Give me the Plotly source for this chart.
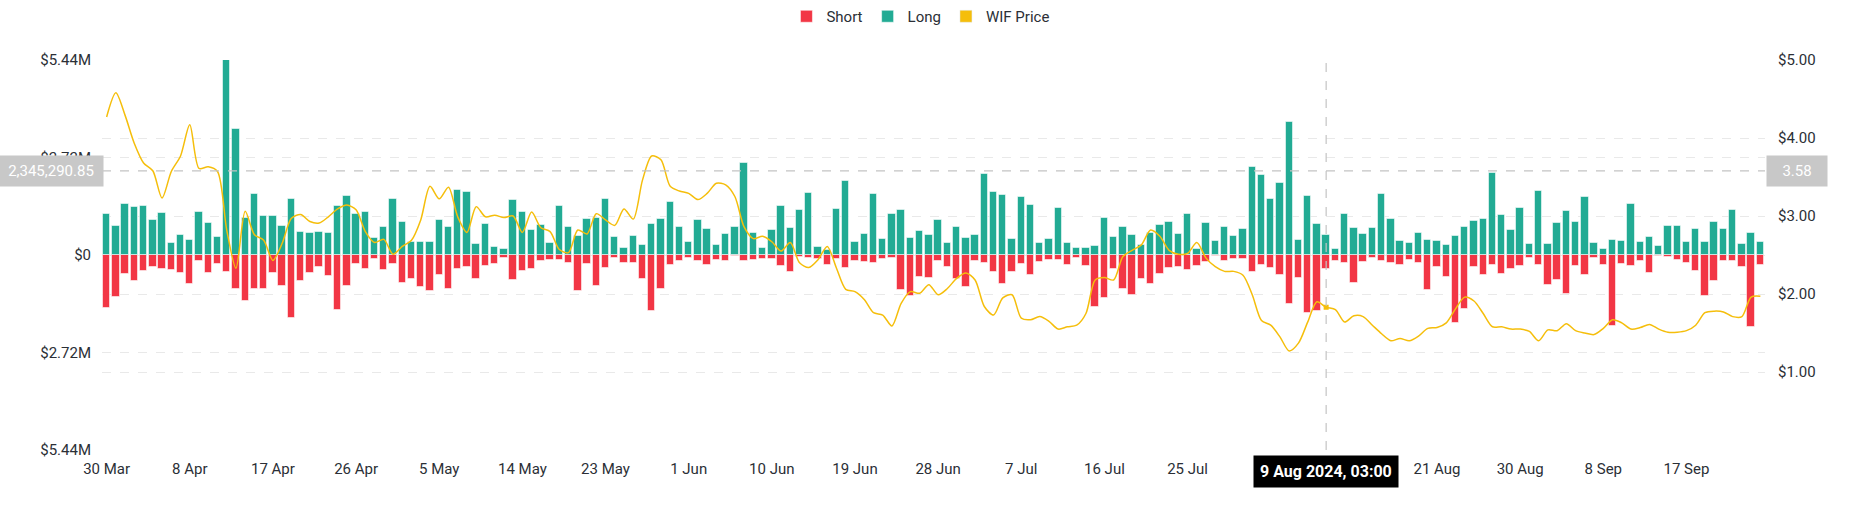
import pandas as pd
import plotly.graph_objects as go

dates = pd.date_range("2024-03-30 03:00", periods=180, freq="D")

long_m = [1.15,0.80,1.41,1.34,1.36,0.97,1.17,0.34,0.56,0.41,
          1.19,0.90,0.49,5.44,3.51,1.04,1.71,1.09,1.08,0.81,
          1.55,0.65,0.61,0.64,0.62,1.37,1.66,1.15,1.21,0.47,
          0.77,1.57,0.92,0.36,0.36,0.36,0.98,0.78,1.81,1.75,
          0.30,0.87,0.21,0.16,1.53,1.20,0.70,0.84,0.33,1.36,
          0.79,0.54,1.00,1.02,1.56,0.51,0.20,0.53,0.27,0.86,
          1.01,1.47,0.77,0.37,0.97,0.73,0.28,0.58,0.78,2.57,
          0.60,0.19,0.69,1.37,0.74,1.26,1.74,0.21,0.14,1.27,
          2.06,0.35,0.59,1.71,0.45,1.14,1.25,0.47,0.67,0.55,
          0.97,0.33,0.79,0.47,0.56,2.25,1.75,1.67,0.45,1.61,
          1.40,0.33,0.46,1.30,0.34,0.19,0.19,0.24,1.02,0.51,
          0.79,0.56,0.28,0.60,0.83,0.92,0.59,1.15,0.17,0.90,
          0.38,0.78,0.53,0.72,2.45,2.24,1.56,2.01,3.70,0.41,
          1.65,0.86,0.55,0.17,1.13,0.75,0.58,0.74,1.70,1.00,
          0.38,0.33,0.61,0.41,0.39,0.28,0.53,0.78,0.95,1.00,
          2.29,1.12,0.70,1.30,0.30,1.78,0.31,0.90,1.24,0.93,
          1.63,0.33,0.17,0.41,0.38,1.43,0.36,0.49,0.24,0.81,
          0.81,0.37,0.72,0.37,0.92,0.73,1.25,0.31,0.62,0.37]

short_m = [1.49,1.16,0.53,0.73,0.46,0.33,0.38,0.43,0.50,0.81,
           0.18,0.49,0.24,0.47,0.94,1.27,0.94,0.94,0.51,0.87,
           1.75,0.72,0.50,0.34,0.59,1.53,0.86,0.25,0.38,0.12,
           0.41,0.25,0.79,0.67,0.90,1.01,0.55,0.94,0.40,0.33,
           0.67,0.32,0.25,0.07,0.70,0.46,0.38,0.18,0.14,0.14,
           0.23,1.01,0.25,0.87,0.36,0.07,0.21,0.21,0.66,1.56,
           0.94,0.29,0.17,0.07,0.18,0.29,0.13,0.18,0.03,0.17,
           0.13,0.11,0.11,0.32,0.48,0.05,0.07,0.11,0.27,0.11,
           0.37,0.16,0.20,0.21,0.12,0.07,0.98,1.14,0.60,0.65,
           0.16,0.33,0.67,0.90,0.18,0.21,0.48,0.82,0.48,0.24,
           0.55,0.20,0.14,0.14,0.29,0.09,0.31,1.45,1.19,0.38,
           0.94,1.12,0.68,0.82,0.53,0.37,0.34,0.42,0.30,0.20,
           0.04,0.18,0.10,0.11,0.47,0.28,0.35,0.57,1.36,0.63,
           1.63,1.55,0.39,0.17,0.21,0.78,0.20,0.07,0.18,0.21,
           0.29,0.15,0.23,0.97,0.34,0.62,1.91,1.51,0.33,0.57,
           0.28,0.52,0.39,0.31,0.08,0.28,0.85,0.69,1.10,0.30,
           0.55,0.07,0.29,1.99,0.25,0.30,0.18,0.49,0.03,0.05,
           0.13,0.21,0.44,1.14,0.73,0.18,0.18,0.34,2.01,0.29]

price = [4.27,4.58,4.29,3.93,3.68,3.58,3.23,3.57,3.77,4.17,
         3.61,3.63,3.57,2.82,2.33,3.06,2.76,2.69,2.43,2.65,
         2.97,3.02,2.93,2.91,2.99,3.09,3.14,3.08,2.80,2.66,
         2.70,2.51,2.61,2.69,2.95,3.38,3.22,3.37,2.99,2.79,
         3.12,2.99,3.01,2.98,3.00,2.79,3.05,2.85,2.80,2.57,
         2.53,2.82,2.77,3.03,2.95,2.88,3.09,2.96,3.46,3.77,
         3.72,3.38,3.32,3.29,3.21,3.29,3.42,3.40,3.25,2.86,
         2.71,2.74,2.67,2.55,2.66,2.40,2.34,2.44,2.61,2.33,
         2.06,2.03,1.93,1.76,1.73,1.59,1.88,2.03,2.01,2.12,
         1.99,2.07,2.20,2.27,2.18,1.84,1.73,1.95,1.99,1.69,
         1.67,1.71,1.65,1.55,1.58,1.60,1.75,2.18,2.21,2.18,
         2.48,2.56,2.63,2.82,2.74,2.56,2.51,2.52,2.66,2.46,
         2.35,2.29,2.29,2.24,1.99,1.66,1.60,1.45,1.27,1.37,
         1.64,1.90,1.83,1.80,1.64,1.72,1.71,1.60,1.49,1.40,
         1.43,1.40,1.46,1.56,1.57,1.63,1.81,1.96,1.91,1.75,
         1.58,1.58,1.55,1.55,1.52,1.40,1.54,1.53,1.62,1.53,
         1.50,1.48,1.56,1.67,1.63,1.55,1.57,1.61,1.55,1.51,
         1.51,1.53,1.60,1.76,1.78,1.77,1.71,1.71,1.96,1.97]

x_tick_idx = [0, 9, 18, 27, 36, 45, 54, 63, 72, 81, 90, 99, 108, 117, 144, 153, 162, 171]
x_tick_text = ["30 Mar", "8 Apr", "17 Apr", "26 Apr", "5 May", "14 May", "23 May", "1 Jun",
               "10 Jun", "19 Jun", "28 Jun", "7 Jul", "16 Jul", "25 Jul", "21 Aug", "30 Aug",
               "8 Sep", "17 Sep"]
y_tick_vals = [-5.44e6, -2.72e6, 0, 2.72e6, 5.44e6]
y_tick_text = ["$5.44M", "$2.72M", "$0", "$2.72M", "$5.44M"]
y2_tick_vals = [1, 2, 3, 4, 5]
y2_tick_text = ["$1.00", "$2.00", "$3.00", "$4.00", "$5.00"]

hover_idx = 132
cross_left = 2345290.85
cross_right = "3.58"
hover_label = "9 Aug 2024, 03:00"

RED = "#F23645"
GREEN = "#22AB94"
YELLOW = "#F5BE0B"
TXT = "#2b2f36"
GRID = "#e9e9e9"
FONT = "Roboto"

bar_w = 0.8 * 86400000

fig = go.Figure()
fig.add_trace(go.Bar(x=dates, y=[-v * 1e6 for v in short_m], name="Short",
                     marker=dict(color=RED, line=dict(color="rgba(255,255,255,0.55)", width=1)),
                     width=bar_w))
fig.add_trace(go.Bar(x=dates, y=[v * 1e6 for v in long_m], name="Long",
                     marker=dict(color=GREEN, line=dict(color="rgba(255,255,255,0.55)", width=1)),
                     width=bar_w))
fig.add_trace(go.Bar(x=[None], y=[None], name="WIF Price", marker=dict(color=YELLOW)))
fig.add_trace(go.Scatter(x=dates, y=price, yaxis="y2", mode="lines", showlegend=False,
                         line=dict(color=YELLOW, width=1.5, shape="spline", smoothing=0.8)))
fig.add_trace(go.Scatter(x=[dates[hover_idx]], y=[price[hover_idx]], yaxis="y2", mode="markers",
                         showlegend=False, marker=dict(color=YELLOW, size=5, symbol="square")))

half = pd.Timedelta(hours=12)
fig.update_layout(
    width=1852, height=525,
    margin=dict(l=102, r=87, t=60, b=75),
    plot_bgcolor="white", paper_bgcolor="white",
    barmode="relative", bargap=0,
    font=dict(family=FONT, size=15, color=TXT),
    legend=dict(orientation="h", x=0.497, xref="container", xanchor="center", y=1, yref="container",
                yanchor="top", font=dict(size=15, color=TXT), itemwidth=30, traceorder="normal"),
    xaxis=dict(type="date", range=[dates[0] - half, dates[-1] + half],
               tickvals=[dates[i] for i in x_tick_idx], ticktext=x_tick_text,
               showgrid=False, zeroline=False, showline=False, ticks="", ticklabelstandoff=8),
    yaxis=dict(range=[-5.44e6, 5.44e6], tickvals=y_tick_vals, ticktext=y_tick_text,
               showgrid=True, gridcolor=GRID, griddash="dash", zeroline=False, ticklabelstandoff=10),
    yaxis2=dict(range=[0, 5], overlaying="y", side="right", tickvals=y2_tick_vals, ticktext=y2_tick_text,
                showgrid=True, gridcolor=GRID, griddash="dash", zeroline=False, ticklabelstandoff=12),
)

# crosshair lines
fig.add_shape(type="line", xref="paper", x0=0, x1=1, yref="y", y0=cross_left, y1=cross_left,
              line=dict(color="#c4c4c4", width=1.2, dash="dash"))
fig.add_shape(type="line", xref="x", x0=dates[hover_idx], x1=dates[hover_idx], yref="paper", y0=0, y1=1,
              line=dict(color="#c4c4c4", width=1.2, dash="dash"))

fig.add_annotation(xref="paper", x=0, yref="y", y=cross_left, xanchor="right", xshift=2,
                   text=f"{cross_left:,.2f}", showarrow=False, bgcolor="#c8c8c8",
                   font=dict(color="white", size=15, family=FONT), borderpad=6, width=92)
fig.add_annotation(xref="paper", x=1, yref="y2", y=float(cross_right), xanchor="left", xshift=1,
                   text=cross_right, showarrow=False, bgcolor="#c8c8c8",
                   font=dict(color="white", size=15, family=FONT), borderpad=6, width=48)
fig.add_annotation(xref="x", x=dates[hover_idx], yref="paper", y=0, yanchor="top", yshift=-5,
                   text=f"<b>{hover_label}</b>", showarrow=False, bgcolor="black",
                   font=dict(color="white", size=16, family=FONT), borderpad=6)

fig.write_html("out.html")
